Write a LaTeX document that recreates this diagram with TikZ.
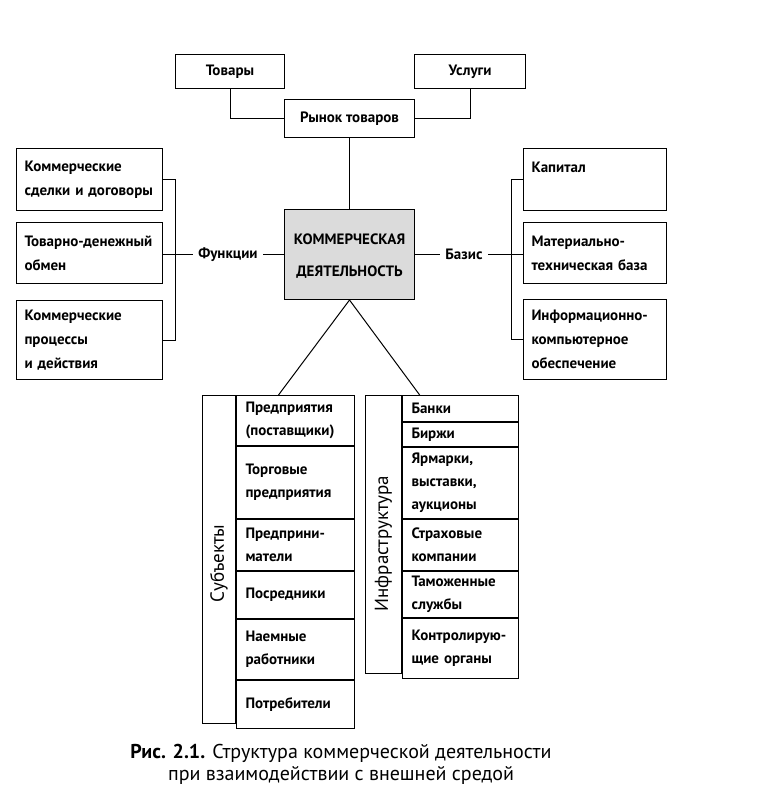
\documentclass[tikz,border=0pt]{standalone}
\usepackage{fontspec}
\setmainfont{PT Sans}
\usetikzlibrary{calc}

\tikzset{
  frame/.style={draw, line width=1pt, anchor=north west},
  topbox/.style={frame, font=\bfseries\fontsize{15}{24}\selectfont},
  sidebox/.style={frame, align=left, inner xsep=8pt, inner ysep=2pt, font=\bfseries\fontsize{15}{24}\selectfont},
  cell/.style={frame, align=left, inner xsep=9pt, inner ysep=2pt, font=\bfseries\fontsize{15}{23}\selectfont},
  vlabel/.style={frame, inner sep=0pt},
  vtext/.style={rotate=90, font=\fontsize{19}{20}\selectfont},
  word/.style={inner xsep=5pt, font=\bfseries\fontsize{15}{20}\selectfont}
}

\begin{document}
\begin{tikzpicture}[x=1pt,y=1pt,yscale=-1,line width=1pt]
\useasboundingbox (0,0) rectangle (759,797);

% market
\node[topbox, minimum width=109pt, minimum height=34pt] (tovary) at (175,54) {Товары};
\node[topbox, minimum width=111pt, minimum height=34pt] (uslugi) at (414,54) {Услуги};
\node[topbox, minimum width=130pt, minimum height=38pt] (rynok) at (284,99) {Рынок товаров};
\draw (tovary.south) |- (rynok.west);
\draw (uslugi.south) |- (rynok.east);

% centre
\node[frame, fill=gray!28, minimum width=130pt, minimum height=90pt, align=center,
  font=\bfseries\fontsize{15}{32}\selectfont] (kd) at (284,209) {\rule{0pt}{14pt}КОММЕРЧЕСКАЯ\\ДЕЯТЕЛЬНОСТЬ};
\draw (rynok) -- (kd);

% functions
\node[sidebox, text width=130pt, minimum height=62pt] (f1) at (16,148) {Коммерческие\\сделки и договоры};
\node[sidebox, text width=130pt, minimum height=61pt] (f2) at (16,222) {Товарно-денежный\\обмен};
\node[sidebox, text width=130pt, minimum height=79pt] (f3) at (16,300) {Коммерческие\\процессы\\и действия};
\node[word] (funk) at ($(kd.west)+(-56,0)$) {Функции};
\draw (f1.east) -- ++(12,0) |- (f3.east);
\draw (funk) -- (funk -| f2.east);
\draw (funk) -- (kd.west);

% basis
\node[sidebox, text width=127pt, minimum height=62pt] (b1) at (523,148) {Капитал\\\mbox{}};
\node[sidebox, text width=127pt, minimum height=61pt] (b2) at (523,222) {Материально-\\техническая база};
\node[sidebox, text width=127pt, minimum height=80pt] (b3) at (523,299) {Информационно-\\компьютерное\\обеспечение};
\node[word] (bazis) at ($(kd.east)+(49,0)$) {Базис};
\draw (b1.west) -- ++(-12,0) |- (b3.west);
\draw (bazis) -- (bazis -| b2.west);
\draw (bazis) -- (kd.east);

% subjects
\node[vlabel, minimum width=33pt, minimum height=328pt] (subj) at (202,395) {};
\node[vtext] (subjtext) at ($(subj.center)+(0,4)$) {Субъекты};
\node[cell, text width=100pt, minimum height=50pt] (s1) at (subj.north east) {Предприятия\\(поставщики)};
\node[cell, text width=100pt, minimum height=72pt] (s2) at (s1.south west) {Торговые\\предприятия};
\node[cell, text width=100pt, minimum height=51pt] (s3) at (s2.south west) {Предприни-\\матели};
\node[cell, text width=100pt, minimum height=47pt] (s4) at (s3.south west) {Посредники};
\node[cell, text width=100pt, minimum height=60pt] (s5) at (s4.south west) {Наемные\\работники};
\node[cell, text width=100pt, minimum height=48pt] (s6) at (s5.south west) {Потребители};

% infrastructure
\node[vlabel, minimum width=36pt, minimum height=278pt] (infra) at (365,395) {};
\node[vtext] (infratext) at ($(infra.center)+(0,9)$) {Инфраструктура};
\node[cell, text width=98pt, minimum height=26pt] (i1) at (infra.north east) {Банки};
\node[cell, text width=98pt, minimum height=24pt] (i2) at (i1.south west) {Биржи};
\node[cell, text width=98pt, minimum height=71pt] (i3) at (i2.south west) {Ярмарки,\\выставки,\\аукционы};
\node[cell, text width=98pt, minimum height=51pt] (i4) at (i3.south west) {Страховые\\компании};
\node[cell, text width=98pt, minimum height=46pt] (i5) at (i4.south west) {Таможенные\\службы};
\node[cell, text width=98pt, minimum height=60pt] (i6) at (i5.south west) {Контролирую-\\щие органы};

\coordinate (subjtop) at ($(subj.north west)!0.5!(s1.north east)$);
\coordinate (infratop) at ($(infra.north west)!0.355!(i1.north east)$);
\draw (kd.south) -- (subjtop);
\draw (kd.south) -- (infratop);

% caption
\node[align=center, font=\fontsize{20}{22}\selectfont] (fig) at (341,764)
  {{\bfseries Рис. 2.1.} Структура коммерческой деятельности\\при взаимодействии с внешней средой};
\end{tikzpicture}
\end{document}
